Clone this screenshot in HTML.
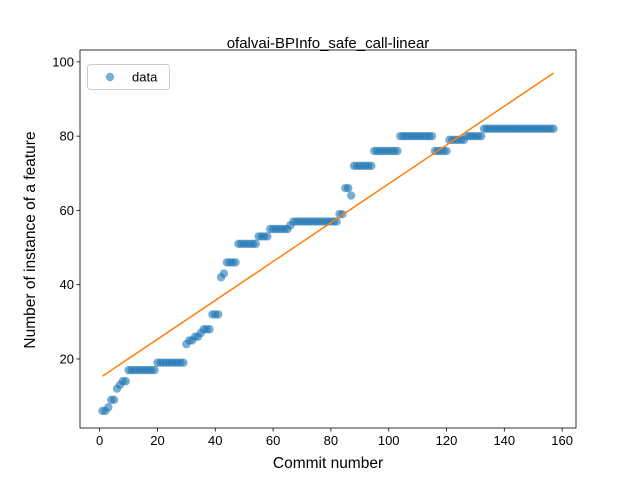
<!DOCTYPE html>
<html><head><meta charset="utf-8"><style>
body{margin:0;background:#fff;}
svg{display:block;font-family:"Liberation Sans","DejaVu Sans",sans-serif;}
</style></head><body>
<svg id="chart" width="640" height="480"></svg>
<script>
const commits = [];
for (let i = 1; i <= 157; i++) commits.push(i);
const runs = [[1,2,6],[3,3,7],[4,5,9],[6,6,12],[7,7,13],[8,9,14],[10,19,17],[20,29,19],[30,30,24],[31,32,25],[33,34,26],[35,35,27],[36,38,28],[39,41,32],[42,42,42],[43,43,43],[44,47,46],[48,54,51],[55,58,53],[59,65,55],[66,66,56],[67,82,57],[83,84,59],[85,86,66],[87,87,64],[88,94,72],[95,103,76],[104,115,80],[116,120,76],[121,126,79],[127,132,80],[133,157,82]];
const values = [];
runs.forEach(r => { for (let i = r[0]; i <= r[1]; i++) values.push(r[2]); });
const xTicks = [0,20,40,60,80,100,120,140,160];
const yTicks = [20,40,60,80,100];

const NS = "http://www.w3.org/2000/svg";
const svg = document.getElementById('chart');
const L=80,R=576,T=50,B=428;
const xmin=-6.8,xmax=164.8,ymin=1.41,ymax=103.2;
const sx = v => L + (v - xmin) / (xmax - xmin) * (R - L);
const sy = v => B - (v - ymin) / (ymax - ymin) * (B - T);
function el(tag, attrs, parent) {
  const e = document.createElementNS(NS, tag);
  for (const k in attrs) e.setAttribute(k, attrs[k]);
  (parent || svg).appendChild(e);
  return e;
}
const n = commits.length;
let mx=0,my=0; for (let i=0;i<n;i++){mx+=commits[i];my+=values[i];} mx/=n; my/=n;
let sxy=0,sxx=0; for (let i=0;i<n;i++){sxy+=(commits[i]-mx)*(values[i]-my);sxx+=(commits[i]-mx)**2;}
const slope=sxy/sxx, icpt=my-slope*mx;

const pts = el('g', {});


for (let i = 0; i < n; i++) {
  const c = el('circle', {cx: sx(commits[i]), cy: sy(values[i]), r: 4.2, fill: '#1f77b4', 'fill-opacity': 0.6}, pts);
  
  
}
const fl = el('line', {x1: sx(commits[0]), y1: sy(icpt+slope*commits[0]), x2: sx(commits[n-1]), y2: sy(icpt+slope*commits[n-1]), stroke: '#ff7f0e', 'stroke-width': 1.5});



const frame = el('rect', {x: L, y: T, width: R-L, height: B-T, fill: 'none', stroke: '#000', 'stroke-width': 0.8});



xTicks.forEach(v => {
  const x = sx(v);
  el('line', {x1: x, y1: B, x2: x, y2: B+3.5, stroke: '#000', 'stroke-width': 0.8});
  const t = el('text', {x: x, y: B+17, 'text-anchor': 'middle', 'font-size': 13});
  t.textContent = v;
  
  
});
yTicks.forEach(v => {
  const y = sy(v);
  el('line', {x1: L-3.5, y1: y, x2: L, y2: y, stroke: '#000', 'stroke-width': 0.8});
  const t = el('text', {x: L-6, y: y+4.5, 'text-anchor': 'end', 'font-size': 13});
  t.textContent = v;
  
  
});
</script>
<svg width="640" height="480" style="position:absolute;left:0;top:0" font-family="Liberation Sans, DejaVu Sans, sans-serif">
<text x="328" y="48" text-anchor="middle" font-size="15">ofalvai-BPInfo_safe_call-linear</text>
<text x="328" y="468" text-anchor="middle" font-size="15.5">Commit number</text>
<text transform="translate(35,240) rotate(-90)" text-anchor="middle" font-size="15.5">Number of instance of a feature</text>
<g>
<rect x="87.5" y="64.5" width="82" height="25" rx="3" fill="#fff" fill-opacity="0.8" stroke="#ccc"/>
<circle cx="110" cy="77" r="4.2" fill="#1f77b4" fill-opacity="0.6"/>
<text x="132" y="81.5" font-size="13">data</text>
</g>
</svg>
</body></html>
